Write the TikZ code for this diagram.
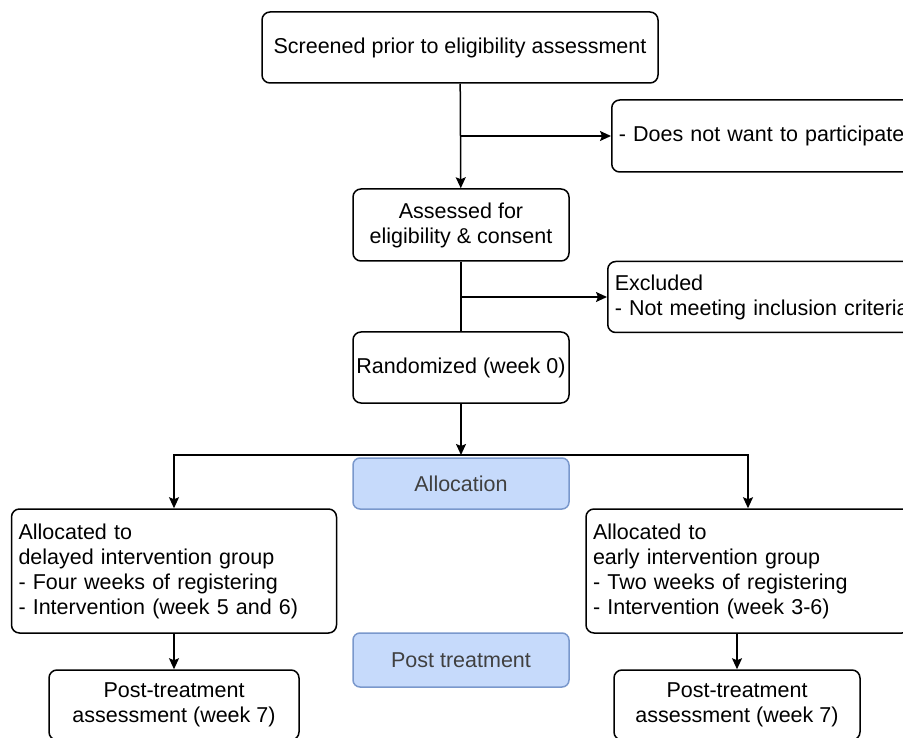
\documentclass[tikz,border=0pt]{standalone}
\usepackage{fontspec}
\setmainfont{Liberation Sans}
\usepackage{xcolor}
\usetikzlibrary{calc}
\usetikzlibrary{positioning}
\usetikzlibrary{arrows.meta}
\definecolor{phasefill}{RGB}{198,218,251}
\definecolor{phaseline}{RGB}{122,152,204}
\definecolor{phasetext}{RGB}{64,64,64}
\newcommand{\boxfont}{\fontsize{21.5}{25}\selectfont}

\begin{document}
\begin{tikzpicture}[x=1pt,y=-1pt,>={Stealth[length=11,width=10,inset=2]},
	box/.style={draw=black, fill=white, rounded corners=8, line width=1.5, align=center, font=\boxfont, inner sep=0},
	listbox/.style={box, align=left, inner xsep=7, inner ysep=0},
	phase/.style={draw=phaseline, fill=phasefill, rounded corners=7, line width=1.5, text=phasetext, font=\boxfont, minimum width=216, inner sep=0},
	flow/.style={line width=1.5, ->},
	plain/.style={line width=1.5}]

% Frame of the picture, the boxes on the right run past it.
\useasboundingbox (0,0) rectangle (903,738);
\clip (0,0) rectangle (903,738);

% Define the middle column and the two arms.
\def\midx{461}
\def\leftx{174}
\def\rightx{748}

\node[box, minimum width=396, minimum height=71] (screen) at (460,47.5) {Screened prior to eligibility assessment};
\node[listbox, text width=300, minimum height=72, anchor=west] (nowant) at (611,136) {- Does not want to participate};

\node[box, minimum width=216, minimum height=72] (assessed) at (\midx,225) {Assessed for\\eligibility \& consent};
\node[listbox, text width=300, minimum height=71, anchor=west] (excluded) at (607,297) {Excluded\\- Not meeting inclusion criteria};

\node[box, minimum width=216, minimum height=71] (random) at (\midx,367.5) {Randomized (week 0)};
\coordinate (split) at (\midx,455);

% Phase labels in the middle
\node[phase, minimum height=51] (alloc) at (\midx,483.5) {Allocation};
\node[phase, minimum height=54] (posttr) at (\midx,660) {Post treatment};

% The two groups
\node[listbox, text width=311, minimum height=124] (delayed) at (\leftx,571) {Allocated to\\delayed intervention group\\- Four weeks of registering\\- Intervention (week 5 and 6)};
\node[listbox, text width=310, minimum height=124] (early) at (\rightx,571) {Allocated to\\early intervention group\\- Two weeks of registering\\- Intervention (week 3-6)};

\node[box, minimum width=250, minimum height=70] (postdel) at (\leftx,705) {Post-treatment\\assessment (week 7)};
\node[box, minimum width=246, minimum height=70] (postearly) at (737,705) {Post-treatment\\assessment (week 7)};

\draw[flow] (screen) -- (assessed);
\draw[flow] (screen.south |- nowant.west) -- (nowant.west);
\draw[plain] (assessed) -- (random);
\draw[flow] (assessed.south |- excluded.west) -- (excluded.west);
\draw[flow] (random) -- (split);
\draw[flow] (split) -| (delayed);
\draw[flow] (split) -| (early);
\draw[flow] (delayed) -- (postdel);
\draw[flow] (postearly.north |- early.south) -- (postearly.north);

\end{tikzpicture}
\end{document}
